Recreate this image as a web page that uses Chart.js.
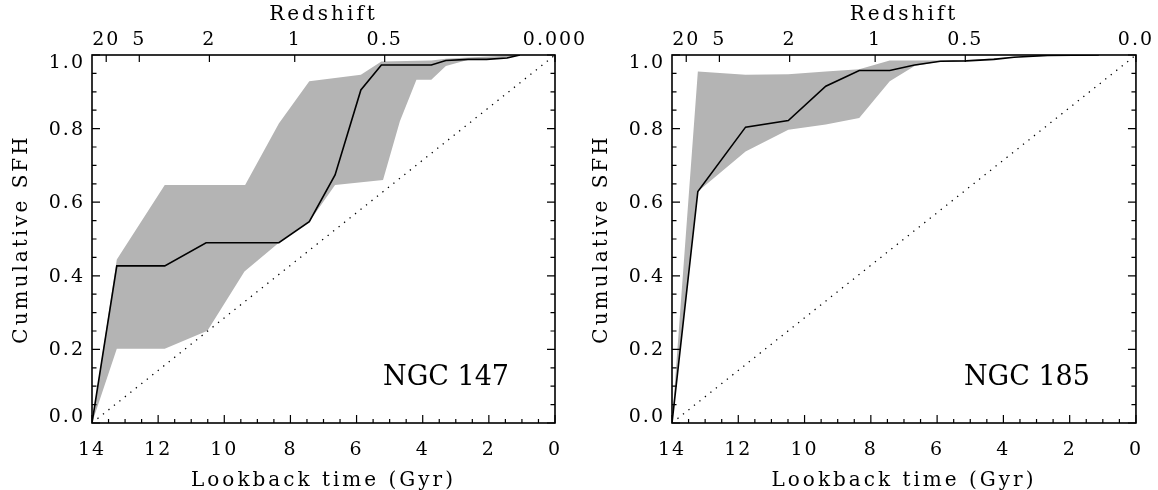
<!DOCTYPE html>
<html>
<head>
<meta charset="utf-8">
<title>Cumulative SFH</title>
<script src="https://cdn.jsdelivr.net/npm/chart.js@4/dist/chart.umd.min.js"></script>
<style>
  html, body { margin: 0; background: #fff; }
  #wrap { position: relative; width: 1158px; height: 490px; overflow: hidden; }
  canvas { position: absolute; top: 0; }
  #ngc147 { left: 0; }
  #ngc185 { left: 580px; }
</style>
</head>
<body>
<div id="wrap">
  <canvas id="ngc147" width="600" height="490"></canvas>
  <canvas id="ngc185" width="578" height="490"></canvas>
</div>
<script>
const FONT = "'DejaVu Serif', serif";

// axis ticks
const lookbackTicks = [14, 12, 10, 8, 6, 4, 2, 0];
const sfhTicks = [0, 0.2, 0.4, 0.6, 0.8, 1.0];
const redshiftLookback = [13.57, 12.57, 10.45, 7.87, 5.15, 0];
const redshiftLabels147 = ["20", "5", "2", "1", "0.5", "0.000"];
const redshiftLabels185 = ["20", "5", "2", "1", "0.5", "0.0"];

// NGC 147: best fit and uncertainty envelope (lookback time in Gyr)
const ngc147Age = [14, 13.25, 11.8, 10.55, 8.35, 7.43, 6.65, 5.87, 5.25, 3.74, 3.3, 2.62, 2.07, 1.45, 1.06];
const ngc147Sfh = [0, 0.427, 0.427, 0.49, 0.49, 0.547, 0.674, 0.905, 0.973, 0.973, 0.985, 0.988, 0.988, 0.992, 1.0];
const ngc147UpperAge = [14, 13.25, 11.8, 9.37, 8.35, 7.43, 5.87, 5.25, 3.74, 3.3, 2.62, 1.06];
const ngc147Upper = [0, 0.444, 0.647, 0.647, 0.814, 0.929, 0.946, 0.982, 0.985, 0.99, 0.993, 1.0];
const ngc147LowerAge = [14, 13.25, 11.8, 10.51, 9.39, 8.35, 7.43, 6.65, 5.2, 4.69, 4.19, 3.74, 3.3, 2.62, 2.07, 1.45, 1.06];
const ngc147Lower = [0, 0.202, 0.202, 0.251, 0.412, 0.49, 0.547, 0.647, 0.66, 0.82, 0.933, 0.933, 0.97, 0.987, 0.988, 0.992, 1.0];

// NGC 185
const ngc185Age = [14, 13.22, 11.78, 10.49, 9.36, 8.35, 7.43, 6.68, 5.9, 5.12, 4.29, 3.68, 2.67, 1.12];
const ngc185Sfh = [0, 0.629, 0.804, 0.822, 0.915, 0.958, 0.958, 0.973, 0.983, 0.984, 0.988, 0.994, 0.999, 1.0];
const ngc185UpperAge = [14, 13.22, 11.78, 10.49, 9.36, 8.35, 7.43, 6.68, 5.12, 3.68, 1.12];
const ngc185Upper = [0, 0.955, 0.946, 0.948, 0.955, 0.961, 0.985, 0.985, 0.986, 0.995, 1.0];
const ngc185LowerAge = [14, 13.22, 11.78, 10.49, 9.36, 8.35, 7.43, 6.68, 5.9, 5.12, 4.29, 3.68, 2.67, 1.12];
const ngc185Lower = [0, 0.629, 0.738, 0.797, 0.811, 0.829, 0.929, 0.97, 0.982, 0.984, 0.988, 0.994, 0.999, 1.0];

// constant star formation rate reference
const uniformAge = [14, 0];
const uniformSfh = [0, 1];

Chart.defaults.color = "#000";
Chart.defaults.font.family = FONT;

const tickFont = { family: FONT, size: 19 };
const titleFont = { family: FONT, size: 20, lineHeight: 0.92 };

function points(xs, ys) {
  return xs.map((x, i) => ({ x: x, y: ys[i] }));
}

// IDL-like text is widely spaced
const letterSpacing = {
  id: "letterSpacing",
  beforeDraw(chart) { chart.ctx.letterSpacing = "3px"; },
  afterDatasetsDraw(chart) { chart.ctx.letterSpacing = "2px"; }
};

// box with inward ticks on all four sides, plus the galaxy name
const frame = {
  id: "frame",
  afterDraw(chart, args, opts) {
    const { ctx, chartArea: a, scales } = chart;
    const x = scales.x, y = scales.y, x2 = scales.x2;
    ctx.save();
    ctx.strokeStyle = "#000";
    ctx.lineWidth = 1.2;
    ctx.beginPath();
    for (let t = 0; t <= 14; t += 0.5) {
      const px = x.getPixelForValue(t);
      const len = t % 2 === 0 ? 8 : 4;
      ctx.moveTo(px, a.bottom);
      ctx.lineTo(px, a.bottom - len);
    }
    for (let k = 0; k <= 20; k++) {
      const py = y.getPixelForValue(k * 0.05);
      const len = k % 4 === 0 ? 8 : 4.5;
      ctx.moveTo(a.left, py);
      ctx.lineTo(a.left + len, py);
      ctx.moveTo(a.right, py);
      ctx.lineTo(a.right - len, py);
    }
    redshiftLookback.forEach(t => {
      const px = x2.getPixelForValue(t);
      ctx.moveTo(px, a.top);
      ctx.lineTo(px, a.top + 7);
    });
    ctx.stroke();
    ctx.lineWidth = 1.6;
    ctx.strokeRect(a.left, a.top, a.right - a.left, a.bottom - a.top);

    ctx.letterSpacing = "0px";
    ctx.fillStyle = "#000";
    ctx.font = "27px " + FONT;
    ctx.textAlign = "right";
    ctx.textBaseline = "alphabetic";
    ctx.fillText(opts.name, a.right - 46, 385);
    ctx.restore();
  }
};

function makePanel(canvasId, name, redshiftLabels, age, sfh, upperAge, upper, lowerAge, lower, rightPad) {
  new Chart(document.getElementById(canvasId), {
    type: "line",
    data: {
      datasets: [
        {
          data: points(upperAge, upper),
          xAxisID: "x",
          fill: "+1",
          backgroundColor: "#b4b4b4",
          borderColor: "rgba(0,0,0,0)",
          borderWidth: 0,
          pointRadius: 0
        },
        {
          data: points(lowerAge, lower),
          xAxisID: "x",
          fill: false,
          borderColor: "rgba(0,0,0,0)",
          borderWidth: 0,
          pointRadius: 0
        },
        {
          data: points(age, sfh),
          xAxisID: "x",
          fill: false,
          borderColor: "#000",
          borderWidth: 1.6,
          pointRadius: 0
        },
        {
          data: points(uniformAge, uniformSfh),
          xAxisID: "x",
          fill: false,
          borderColor: "#000",
          borderWidth: 1.3,
          borderDash: [1.3, 5.7],
          pointRadius: 0
        }
      ]
    },
    options: {
      responsive: false,
      animation: false,
      events: [],
      layout: { padding: { left: 0, top: 0, right: rightPad, bottom: 0 } },
      plugins: {
        legend: { display: false },
        tooltip: { enabled: false },
        filler: { drawTime: "beforeDatasetsDraw" },
        frame: { name: name }
      },
      scales: {
        x: {
          type: "linear",
          position: "bottom",
          min: 0,
          max: 14,
          reverse: true,
          afterBuildTicks: s => { s.ticks = lookbackTicks.map(v => ({ value: v })); },
          ticks: { autoSkip: false, maxRotation: 0, padding: 16, z: 1, font: tickFont },
          grid: { display: false, drawTicks: false },
          border: { display: false },
          title: { display: true, text: "Lookback time (Gyr)", font: titleFont, padding: 0 },
          afterFit: s => { s.height = 67; }
        },
        x2: {
          type: "linear",
          position: "top",
          min: 0,
          max: 14,
          reverse: true,
          afterBuildTicks: s => { s.ticks = redshiftLookback.map(v => ({ value: v })); },
          ticks: {
            autoSkip: false,
            maxRotation: 0,
            padding: 4,
            z: 1,
            font: tickFont,
            callback: (v, i) => redshiftLabels[i]
          },
          grid: { display: false, drawTicks: false },
          border: { display: false },
          title: { display: true, text: "Redshift", font: titleFont, padding: { top: 6, bottom: 0 } },
          afterFit: s => { s.height = 55; }
        },
        y: {
          type: "linear",
          position: "left",
          min: 0,
          max: 1,
          // end labels sit just inside the frame
          afterBuildTicks: s => {
            s.ticks = sfhTicks.map(v => ({ value: v === 0 ? 0.02 : v === 1 ? 0.98 : v }));
          },
          ticks: {
            autoSkip: false,
            padding: 7,
            labelOffset: 1,
            z: 1,
            font: tickFont,
            callback: v => v.toFixed(1)
          },
          grid: { display: false, drawTicks: false },
          border: { display: false },
          title: { display: true, text: "Cumulative SFH", font: titleFont, padding: { top: 12.2, bottom: 0 } },
          afterFit: s => { s.width = 92; }
        }
      }
    },
    plugins: [letterSpacing, frame]
  });
}

makePanel("ngc147", "NGC 147", redshiftLabels147,
  ngc147Age, ngc147Sfh, ngc147UpperAge, ngc147Upper, ngc147LowerAge, ngc147Lower, 45);
makePanel("ngc185", "NGC 185", redshiftLabels185,
  ngc185Age, ngc185Sfh, ngc185UpperAge, ngc185Upper, ngc185LowerAge, ngc185Lower, 22);
</script>
</body>
</html>
